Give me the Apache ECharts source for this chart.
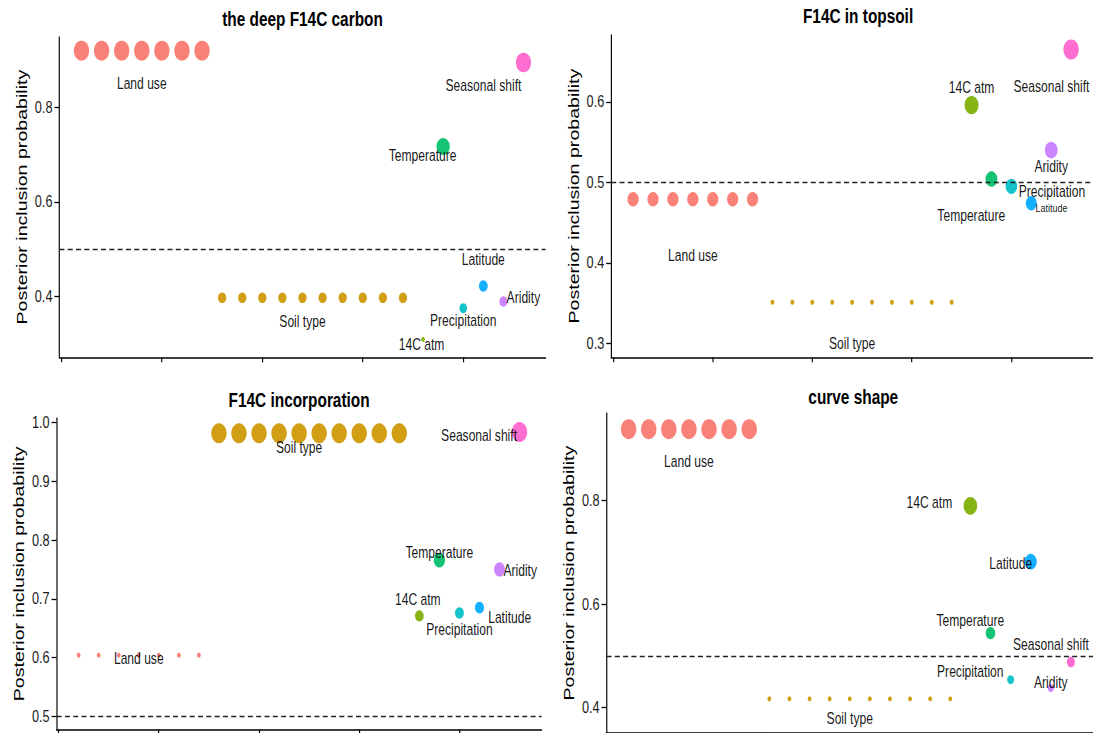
<!DOCTYPE html>
<html><head><meta charset="utf-8">
<script src="https://cdn.jsdelivr.net/npm/echarts@6/dist/echarts.min.js"></script>
<style>
html,body{margin:0;padding:0;background:#fff;overflow:hidden;width:1093px;height:733px}
#chart{width:1419.5px;height:733px;transform:scaleX(0.77);transform-origin:0 0}
</style>
</head><body><div id="chart"></div>
<script>
// ---------------- data ----------------
const variables = ['Land use','Soil type','14C atm','Temperature','Precipitation','Latitude','Aridity','Seasonal shift'];
const groupCounts = [7,10,1,1,1,1,1,1];
const panelTitles = ['the deep F14C carbon','F14C in topsoil','F14C incorporation','curve shape'];
const pipDeep     = [0.920,0.397,0.309,0.717,0.375,0.422,0.389,0.895];
const pipTopsoil  = [0.479,0.351,0.596,0.504,0.495,0.474,0.540,0.665];
const pipIncorp   = [0.604,0.982,0.671,0.766,0.676,0.685,0.750,0.984];
const pipCurve    = [0.938,0.417,0.790,0.544,0.454,0.682,0.438,0.488];
const yTicks = [[0.4,0.6,0.8],[0.3,0.4,0.5,0.6],[0.5,0.6,0.7,0.8,0.9,1.0],[0.4,0.6,0.8]];
const yLimits = [[0.271,0.949],[0.2826,0.683],[0.4774,1.0075],[0.351,0.9687]];
const xTicks = [0,5,10,15,20];
const xLimits = [-0.1,24.1];
const threshold = 0.5;

// ---------------- style / layout ----------------
const colors = ['#F8766D','#CD9600','#7CAE00','#00BE67','#00BFC4','#00A9FF','#C77CFF','#FF61CC'];
const S = 0.77; // horizontal squeeze of the picture
const FONT = "'Liberation Sans', Arial, Helvetica, sans-serif";
// panel boxes in screen px
const boxes = [
  {x0:59.4,  x1:545.6,  y0:37,    y1:357.3, ty:19.3},
  {x0:611.2, x1:1104.9, y0:35,    y1:357.3, ty:16.7},
  {x0:56.6,  x1:541.6,  y0:418.3, y1:729.5, ty:400.7},
  {x0:606.5, x1:1100,   y0:413.3, y1:734.5, ty:397.3}
];
const labelCarrier = [4,5,1,1,1,1,1,1];
// label offsets (screen px) relative to carrying point
const labelOffsets = [
  [[0,33],[0,23.4],[-1.5,5],[-20.5,9],[0,12.3],[0,-26.7],[20,-4.3],[-40,22.7]],
  [[0,56.3],[0,41.6],[0,-17.4],[-20.2,36.7],[40.5,5],[20.2,4.4],[0,16.4],[-19.7,37.4]],
  [[0,3],[0,14.3],[-1.5,-16],[0,-7.4],[0,16],[30.2,10],[20.7,1],[-40.5,3.4]],
  [[0,32],[0,20],[-41,-3.7],[-20.2,-12.3],[-40.3,-8.3],[-20,2],[0,-6],[-20,-17.3]]
];
const labelFontSizes = [
  [15.7,15.7,15.7,15.7,15.7,15.7,15.7,15.7],
  [15.7,15.7,15.7,15.7,15.7,11.7,15.7,15.7],
  [15.7,15.7,15.7,15.7,15.7,15.7,15.7,15.7],
  [15.7,15.7,15.7,15.7,15.7,15.7,15.7,15.7]
];

const panelValues = [pipDeep,pipTopsoil,pipIncorp,pipCurve];

const grids=[], xAxes=[], yAxes=[], series=[], titles=[];
panelValues.forEach((vals,p)=>{
  const b = boxes[p];
  grids.push({left:b.x0/S, top:b.y0, width:(b.x1-b.x0)/S, height:b.y1-b.y0, containLabel:false});
  titles.push({text:panelTitles[p], left:(b.x0+b.x1)/2/S, top:b.ty-11, textAlign:'center', padding:0,
    textStyle:{fontFamily:FONT, fontSize:20, fontWeight:'bold', color:'#000', lineHeight:22}});
  xAxes.push({gridIndex:p, type:'value', min:xLimits[0], max:xLimits[1],
    axisLine:{show:true, onZero:false, lineStyle:{color:'#000', width:1.5}},
    axisTick:{show:true, customValues:xTicks, length:5, lineStyle:{color:'#000', width:1.5}},
    axisLabel:{show:false}, splitLine:{show:false}});
  yAxes.push({gridIndex:p, type:'value', min:yLimits[p][0], max:yLimits[p][1],
    name:'Posterior inclusion probability', nameLocation:'middle', nameGap:39, nameRotate:90,
    nameTextStyle:{fontFamily:FONT, fontSize:19.6, color:'#000'},
    axisLine:{show:true, onZero:false, lineStyle:{color:'#000', width:1.5}},
    axisTick:{show:true, customValues:yTicks[p], length:6.5, lineStyle:{color:'#000', width:1.3}},
    axisLabel:{show:true, customValues:yTicks[p], margin:9, fontFamily:FONT, fontSize:16.5, color:'#1a1a1a',
      formatter:v=>Number(v).toFixed(1)},
    splitLine:{show:false}});
  const mn = Math.min(...vals), mx = Math.max(...vals);
  const data=[]; let idx=0;
  variables.forEach((name,g)=>{
    for(let k=1;k<=groupCounts[g];k++){
      idx++;
      const item = {value:[idx, vals[g]], name:name, itemStyle:{color:colors[g], opacity:0.92}};
      if(k===labelCarrier[g]){
        const o = labelOffsets[p][g];
        item.label = {show:true, position:'inside', offset:[o[0]/S, o[1]], formatter:name,
          fontFamily:FONT, fontSize:labelFontSizes[p][g], color:'#000'};
      } else {
        item.label = {show:false};
      }
      data.push(item);
    }
  });
  series.push({type:'scatter', xAxisIndex:p, yAxisIndex:p, symbol:'circle',
    symbolSize:(val)=>{const t=Math.max(0,(val[1]-mn)/(mx-mn)); const sz=1+5*Math.sqrt(t); return 3.0*sz+2;},
    data:data, z:3,
    markLine:{silent:true, symbol:'none', label:{show:false},
      lineStyle:{color:'#222', width:1.4, type:[6.5,4.3]}, data:[{yAxis:threshold}]}});
});

const chart = echarts.init(document.getElementById('chart'), null, {renderer:'svg', width:1419.5, height:733});
chart.setOption({animation:false, backgroundColor:'#fff', title:titles, grid:grids, xAxis:xAxes, yAxis:yAxes, series:series});
</script></body></html>
